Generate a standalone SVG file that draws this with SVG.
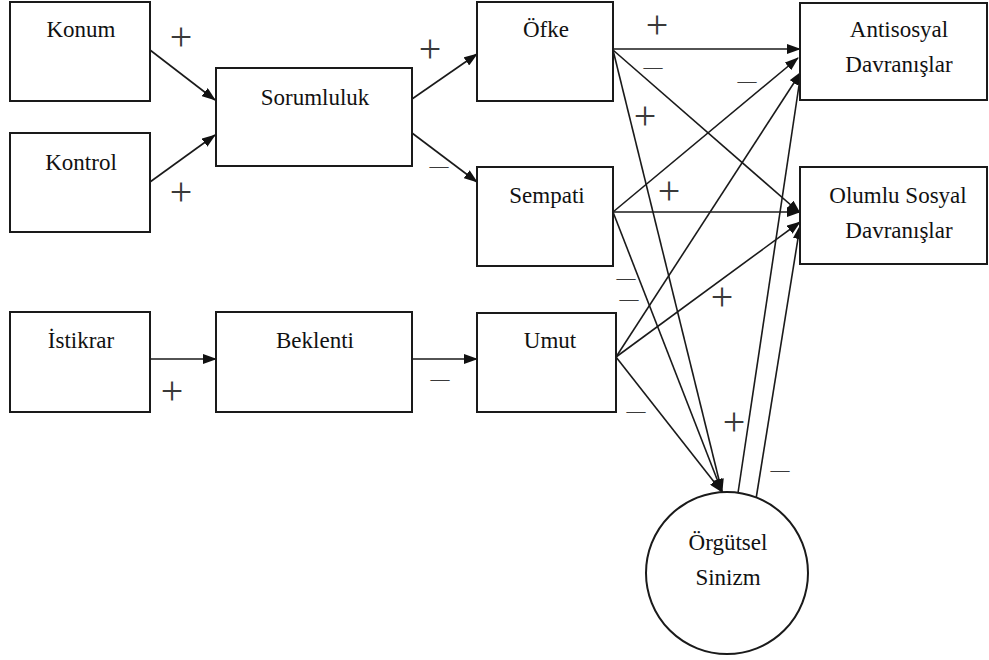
<svg xmlns="http://www.w3.org/2000/svg" width="989" height="660" viewBox="0 0 989 660">
<style>
.box{fill:#fff;stroke:#1a1a1a;stroke-width:2}
.lbl{font-family:"Liberation Serif","Times New Roman",serif;font-size:23px;fill:#111;text-anchor:middle}
.ln{stroke:#1a1a1a;stroke-width:1.6;fill:none;marker-end:url(#ah)}
.sg{font-family:"Liberation Serif","Times New Roman",serif;fill:#3a3a3a;text-anchor:middle}
.p{font-size:40px}
.m{font-size:19px}
</style>
<defs>
<marker id="ah" markerUnits="userSpaceOnUse" markerWidth="14" markerHeight="10" refX="13" refY="5" orient="auto">
<path d="M0,0 L14,5 L0,10 z" fill="#111"/>
</marker>
</defs>
<rect width="989" height="660" fill="#fff"/>
<g id="connectors">
<line class="ln" x1="150" y1="50" x2="215" y2="100"/>
<line class="ln" x1="150" y1="182" x2="215" y2="135"/>
<line class="ln" x1="412" y1="99" x2="477" y2="54"/>
<line class="ln" x1="412" y1="133" x2="477" y2="182"/>
<line class="ln" x1="150" y1="359" x2="216" y2="359"/>
<line class="ln" x1="412" y1="359" x2="477" y2="359"/>
<line class="ln" x1="613" y1="49" x2="800" y2="49"/>
<line class="ln" x1="613" y1="50" x2="800" y2="213"/>
<line class="ln" x1="613" y1="50" x2="722" y2="492"/>
<line class="ln" x1="613" y1="212" x2="798" y2="58"/>
<line class="ln" x1="613" y1="212" x2="800" y2="212"/>
<line class="ln" x1="613" y1="212" x2="722" y2="492"/>
<line class="ln" x1="616" y1="357" x2="801" y2="72"/>
<line class="ln" x1="616" y1="357" x2="800" y2="222"/>
<line class="ln" x1="616" y1="357" x2="722" y2="492"/>
<line class="ln" x1="738" y1="493" x2="801" y2="72"/>
<line class="ln" x1="756" y1="499" x2="800" y2="226"/>
</g>
<g id="signs">
<text class="sg p" x="181" y="50">+</text>
<text class="sg p" x="181" y="205">+</text>
<text class="sg p" x="430" y="62">+</text>
<text class="sg m" x="439" y="172">—</text>
<text class="sg p" x="172" y="404">+</text>
<text class="sg m" x="440" y="385">—</text>
<text class="sg p" x="657" y="38">+</text>
<text class="sg m" x="653" y="73">—</text>
<text class="sg p" x="645" y="129">+</text>
<text class="sg m" x="747" y="87">—</text>
<text class="sg p" x="669" y="204">+</text>
<text class="sg m" x="626" y="284">—</text>
<text class="sg m" x="629" y="305">—</text>
<text class="sg p" x="722" y="310">+</text>
<text class="sg m" x="636" y="417">—</text>
<text class="sg p" x="734" y="435">+</text>
<text class="sg m" x="780" y="476">—</text>
</g>
<g id="konum"><rect class="box" x="10" y="2" width="140" height="99"/><text class="lbl" x="81" y="37">Konum</text></g>
<g id="kontrol"><rect class="box" x="10" y="133" width="140" height="99"/><text class="lbl" x="81" y="170">Kontrol</text></g>
<g id="sorumluluk"><rect class="box" x="216" y="68" width="196" height="98"/><text class="lbl" x="315" y="105">Sorumluluk</text></g>
<g id="ofke"><rect class="box" x="477" y="2" width="136" height="99"/><text class="lbl" x="546" y="37">Öfke</text></g>
<g id="sempati"><rect class="box" x="477" y="167" width="136" height="99"/><text class="lbl" x="547" y="203">Sempati</text></g>
<g id="umut"><rect class="box" x="477" y="313" width="139" height="99"/><text class="lbl" x="550" y="348">Umut</text></g>
<g id="istikrar"><rect class="box" x="10" y="312" width="140" height="100"/><text class="lbl" x="81" y="348">İstikrar</text></g>
<g id="beklenti"><rect class="box" x="216" y="312" width="196" height="100"/><text class="lbl" x="315" y="348">Beklenti</text></g>
<g id="antisosyal"><rect class="box" x="800" y="3" width="187" height="97"/><text class="lbl" x="899" y="37">Antisosyal</text><text class="lbl" x="899" y="72">Davranışlar</text></g>
<g id="olumlu"><rect class="box" x="800" y="167" width="187" height="97"/><text class="lbl" x="898" y="203">Olumlu Sosyal</text><text class="lbl" x="899" y="238">Davranışlar</text></g>
<g id="orgutsel"><circle class="box" cx="727" cy="573" r="81"/><text class="lbl" x="728" y="550">Örgütsel</text><text class="lbl" x="728" y="585">Sinizm</text></g>
</svg>
